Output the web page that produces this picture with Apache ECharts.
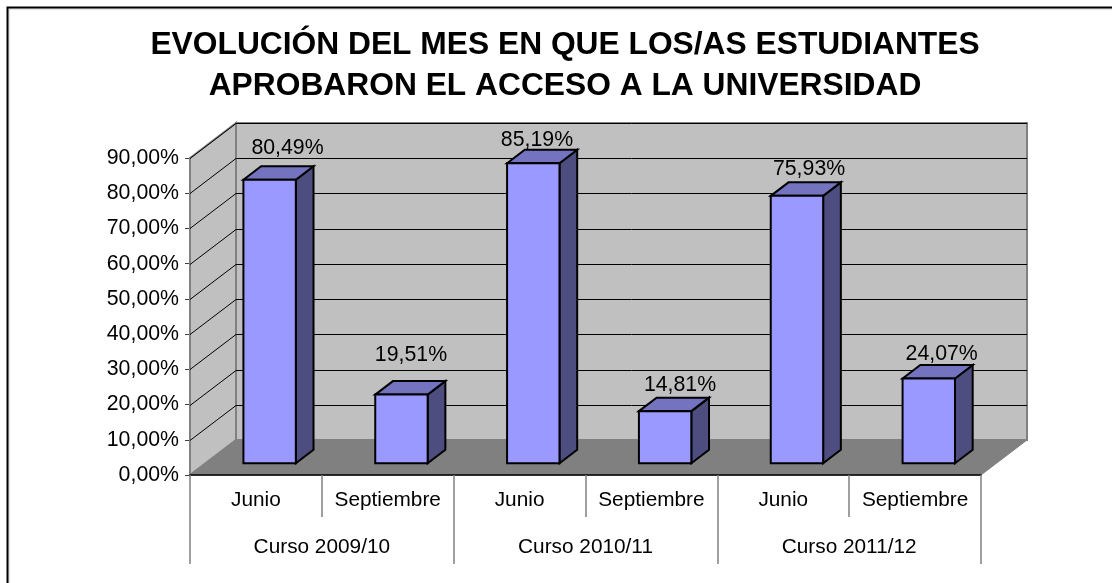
<!DOCTYPE html>
<html><head><meta charset="utf-8">
<style>html,body{margin:0;padding:0;background:#fff}#c{width:1112px;height:583px}</style>
<script src="https://cdn.jsdelivr.net/npm/echarts@6/dist/echarts.min.js"></script>
</head><body><div id="c"></div>
<script>
const titleText = 'EVOLUCIÓN DEL MES EN QUE LOS/AS ESTUDIANTES\nAPROBARON EL ACCESO A LA UNIVERSIDAD';
const months = ['Junio','Septiembre','Junio','Septiembre','Junio','Septiembre'];
const courses = ['Curso 2009/10','Curso 2010/11','Curso 2011/12'];
const percents = [80.49,19.51,85.19,14.81,75.93,24.07];
const yTicks = [0,10,20,30,40,50,60,70,80,90];

// 3D look: offsets in pixels
const WALL_DX=46, WALL_DY=-35;
const BAR_DX=13.7, BAR_DY=-11.7;
const BAR_DEPTH_X=17.7, BAR_DEPTH_Y=-13.5;
const BAR_RATIO=0.3975;
const labelDx=[17.9,9.5,3.7,14.9,12.1,12.9];
const labelDy=[-18,-26,-10,-13,-13,-11];
const FONT='21.3px "Liberation Sans", Arial, sans-serif';
const fmt=v=>v.toFixed(2).replace('.',',')+'%';

const chart=echarts.init(document.getElementById('c'),null,{renderer:'canvas'});

function renderWalls(params,api){
  const cs=params.coordSys;
  const L=cs.x,R=cs.x+cs.width,B=cs.y+cs.height,T=cs.y;
  const dx=WALL_DX,dy=WALL_DY;
  const kids=[];
  kids.push({type:'polygon',shape:{points:[[L,B],[L+dx,B+dy],[R+dx,B+dy],[R,B]]},style:{fill:'#808080',stroke:'#808080',lineWidth:1}});
  kids.push({type:'polygon',shape:{points:[[L,T],[L+dx,T+dy],[L+dx,B+dy],[L,B]]},style:{fill:'#C0C0C0',stroke:'#808080',lineWidth:2}});
  kids.push({type:'rect',shape:{x:L+dx,y:T+dy,width:cs.width,height:cs.height},style:{fill:'#C0C0C0',stroke:'#808080',lineWidth:2}});
  yTicks.forEach(t=>{
    const y=Math.round(api.coord([0,t])[1])+0.5;
    if(t>0){
      kids.push({type:'polyline',shape:{points:[[L,y],[L+dx,y+dy],[R+dx,y+dy]]},style:{fill:null,stroke:'#000',lineWidth:1}});
    }
  });
  return {type:'group',children:kids};
}
function renderBar(params,api){
  const i=api.value(0),v=api.value(1);
  const p=api.coord([i,v]),p0=api.coord([i,0]);
  const w=api.size([1,0])[0]*BAR_RATIO;
  const x0=p[0]+BAR_DX-w/2,x1=x0+w,yT=p[1]+BAR_DY,yB=p0[1]+BAR_DY;
  const ddx=BAR_DEPTH_X,ddy=BAR_DEPTH_Y;
  const st={stroke:'#000',lineWidth:2,lineJoin:'miter'};
  return {type:'group',children:[
    {type:'polygon',shape:{points:[[x1,yT],[x1+ddx,yT+ddy],[x1+ddx,yB+ddy],[x1,yB]]},style:{fill:'#4D4D80',...st}},
    {type:'polygon',shape:{points:[[x0,yT],[x0+ddx,yT+ddy],[x1+ddx,yT+ddy],[x1,yT]]},style:{fill:'#7373BF',...st}},
    {type:'rect',shape:{x:x0,y:yT,width:w,height:yB-yT},style:{fill:'#9999FF',...st}},
    {type:'text',style:{x:x0+w/2+labelDx[i],y:yT+ddy+labelDy[i],text:fmt(v),font:FONT,fill:'#000',align:'center',verticalAlign:'middle'}}
  ]};
}
chart.setOption({
  animation:false,
  backgroundColor:'#fff',
  title:{text:titleText,left:560,top:19,textAlign:'center',
    textStyle:{fontFamily:'"Liberation Sans", Arial, sans-serif',fontWeight:'bold',fontSize:31.75,lineHeight:41.5,color:'#000'}},
  graphic:[
    {type:'polyline',silent:true,z:10,shape:{points:[[7.5,583],[7.5,7.5],[1112,7.5]]},style:{fill:null,stroke:'#000',lineWidth:2}},
    {type:'polyline',silent:true,z:9,shape:{points:[[9,583],[9,9],[1112,9]]},style:{fill:null,stroke:'#c8c8c8',lineWidth:1}}
  ],
  grid:{left:190,right:131,top:158,bottom:108,containLabel:false},
  xAxis:[
    {type:'category',data:months,position:'bottom',boundaryGap:true,
     axisLine:{show:true,onZero:false,lineStyle:{color:'#000',width:1.5}},
     axisTick:{show:true,alignWithLabel:false,length:42,lineStyle:{color:'#808080',width:1.5}},
     axisLabel:{interval:0,margin:15,color:'#000',fontFamily:'"Liberation Sans", Arial, sans-serif',fontSize:20.8},
     splitLine:{show:false},z:5},
    {type:'category',data:courses,position:'bottom',boundaryGap:true,
     axisLine:{show:false,onZero:false},
     axisTick:{show:true,alignWithLabel:false,length:89,lineStyle:{color:'#808080',width:1.5}},
     axisLabel:{interval:0,margin:62,color:'#000',fontFamily:'"Liberation Sans", Arial, sans-serif',fontSize:20.8},
     splitLine:{show:false},z:5}
  ],
  yAxis:{type:'value',min:0,max:90,interval:10,
    axisLine:{show:true,lineStyle:{color:'#595959',width:1.5}},
    axisTick:{show:true,length:5,lineStyle:{color:'#404040',width:1}},
    axisLabel:{margin:11,color:'#000',fontFamily:'"Liberation Sans", Arial, sans-serif',fontSize:21.3,formatter:v=>fmt(v)},
    splitLine:{show:false}},
  series:[
    {type:'custom',coordinateSystem:'cartesian2d',xAxisIndex:0,yAxisIndex:0,z:1,silent:true,renderItem:renderWalls,data:[[0,0]],encode:{x:0,y:1}},
    {type:'custom',coordinateSystem:'cartesian2d',xAxisIndex:0,yAxisIndex:0,z:2,silent:true,renderItem:renderBar,
     data:percents.map((v,i)=>[i,v]),encode:{x:0,y:1}}
  ]
});
</script></body></html>
